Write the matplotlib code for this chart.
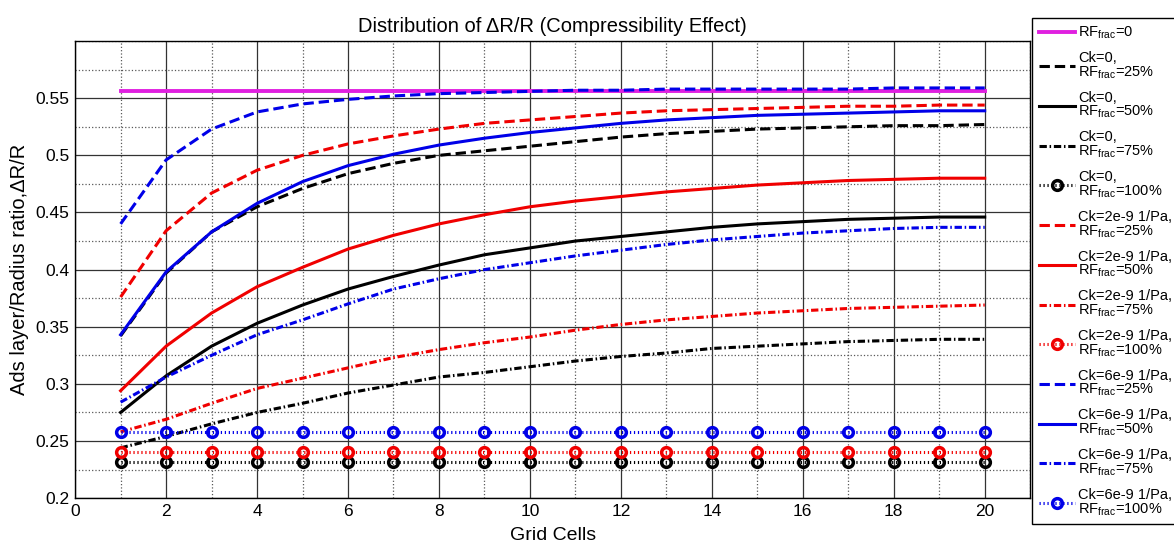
import numpy as np
import matplotlib
matplotlib.use("Agg")
from matplotlib import pyplot as plt
from matplotlib.ticker import MultipleLocator, FormatStrFormatter

plt.rcParams['font.family'] = ['Liberation Sans', 'DejaVu Sans']
plt.rcParams['mathtext.fontset'] = 'custom'
plt.rcParams['mathtext.rm'] = 'Liberation Sans'
plt.rcParams['mathtext.it'] = 'Liberation Sans'

# grid cell index
cells = np.arange(1, 21)

# RF_frac = 0 (no compressibility influence)
rf0 = [0.556] * 20

# Ck = 0
ck0_25 = [0.342, 0.397, 0.433, 0.455, 0.471, 0.484, 0.493, 0.500, 0.504, 0.508,
          0.512, 0.516, 0.519, 0.521, 0.523, 0.524, 0.525, 0.526, 0.526, 0.527]
ck0_50 = [0.275, 0.307, 0.333, 0.353, 0.369, 0.383, 0.394, 0.404, 0.413, 0.419,
          0.425, 0.429, 0.433, 0.437, 0.440, 0.442, 0.444, 0.445, 0.446, 0.446]
ck0_75 = [0.244, 0.254, 0.265, 0.275, 0.283, 0.292, 0.299, 0.306, 0.310, 0.315,
          0.320, 0.324, 0.327, 0.331, 0.333, 0.335, 0.337, 0.338, 0.339, 0.339]
ck0_100 = [0.2314] * 20

# Ck = 2e-9 1/Pa
ck2_25 = [0.376, 0.434, 0.467, 0.487, 0.500, 0.510, 0.517, 0.523, 0.528, 0.531,
          0.534, 0.537, 0.539, 0.540, 0.541, 0.542, 0.543, 0.543, 0.544, 0.544]
ck2_50 = [0.294, 0.333, 0.362, 0.385, 0.402, 0.418, 0.430, 0.440, 0.448, 0.455,
          0.460, 0.464, 0.468, 0.471, 0.474, 0.476, 0.478, 0.479, 0.480, 0.480]
ck2_75 = [0.258, 0.269, 0.283, 0.296, 0.305, 0.314, 0.323, 0.330, 0.336, 0.341,
          0.347, 0.352, 0.356, 0.359, 0.362, 0.364, 0.366, 0.367, 0.368, 0.369]
ck2_100 = [0.240] * 20

# Ck = 6e-9 1/Pa
ck6_25 = [0.440, 0.496, 0.523, 0.538, 0.545, 0.549, 0.552, 0.554, 0.555, 0.556,
          0.557, 0.557, 0.558, 0.558, 0.558, 0.558, 0.558, 0.559, 0.559, 0.559]
ck6_50 = [0.343, 0.398, 0.433, 0.458, 0.477, 0.491, 0.501, 0.509, 0.515, 0.520,
          0.524, 0.528, 0.531, 0.533, 0.535, 0.536, 0.537, 0.538, 0.539, 0.539]
ck6_75 = [0.284, 0.306, 0.325, 0.343, 0.356, 0.370, 0.383, 0.392, 0.400, 0.406,
          0.412, 0.417, 0.422, 0.426, 0.429, 0.432, 0.434, 0.436, 0.437, 0.437]
ck6_100 = [0.2576] * 20

rf = "RF$_{\\mathrm{frac}}$"
labels = [rf + "=0"]
for ck in ["Ck=0,", "Ck=2e-9 1/Pa,", "Ck=6e-9 1/Pa,"]:
    for p in ["25%", "50%", "75%", "100%"]:
        labels.append(ck + "\n" + rf + "=" + p)

series = [rf0,
          ck0_25, ck0_50, ck0_75, ck0_100,
          ck2_25, ck2_50, ck2_75, ck2_100,
          ck6_25, ck6_50, ck6_75, ck6_100]
colors = ['#e020e0'] + ['black'] * 4 + ['#f00000'] * 4 + ['#0000e8'] * 4

# dash patterns (in units of line width)
dashed = (0, (3.4, 1.6))
dashdot = (0, (2.4, 0.9, 0.5, 0.9))
dotted = (0, (0.4, 0.9))
styles = ['-'] + [dashed, '-', dashdot, dotted] * 3

fig = plt.figure(figsize=(11.74, 5.48), dpi=100)
ax = fig.add_axes([0.064, 0.091, 0.8135, 0.834])

for i, (y, c, ls, lab) in enumerate(zip(series, colors, styles, labels)):
    if ls is dotted:
        ax.plot(cells, y, color=c, linestyle=ls, linewidth=2.2, marker='o',
                markersize=7, markerfacecolor='none', markeredgewidth=2.5,
                label=lab)
    elif i == 0:
        ax.plot(cells, y, color=c, linestyle=ls, linewidth=2.8, label=lab)
    else:
        ax.plot(cells, y, color=c, linestyle=ls, linewidth=2.2, label=lab)

ax.set_xlim(0, 21)
ax.set_ylim(0.2, 0.6)
ax.set_xticks(np.arange(0, 21, 2))
ax.set_yticks(np.arange(0.2, 0.56, 0.05))
ax.yaxis.set_major_formatter(FormatStrFormatter('%g'))
ax.xaxis.set_minor_locator(MultipleLocator(1))
ax.yaxis.set_minor_locator(MultipleLocator(0.025))
ax.grid(True, which='major', color='0.2', linestyle='-', linewidth=0.9)
ax.grid(True, which='minor', color='0.35', linestyle=':', linewidth=0.9)
ax.set_axisbelow(True)
ax.tick_params(which='both', direction='in', labelsize=12.5, length=0, pad=4)
for s in ax.spines.values():
    s.set_linewidth(1)

ax.set_title("Distribution of ΔR/R (Compressibility Effect)", fontsize=14.5, pad=6.5)
ax.set_xlabel("Grid Cells", fontsize=14, labelpad=6)
ax.set_ylabel("Ads layer/Radius ratio,ΔR/R", fontsize=14.5, labelpad=5)

leg = fig.legend(loc='upper left', bbox_to_anchor=(0.879, 0.967),
                 borderaxespad=0, fontsize=10.5, numpoints=1, handlelength=2.5,
                 handletextpad=0.2, labelspacing=0.68, borderpad=0.45,
                 fancybox=False, framealpha=1, edgecolor='black')
leg.get_frame().set_linewidth(1)
for t in leg.get_texts():
    t.set_linespacing(0.95)

fig.savefig("out.png", dpi=100)
